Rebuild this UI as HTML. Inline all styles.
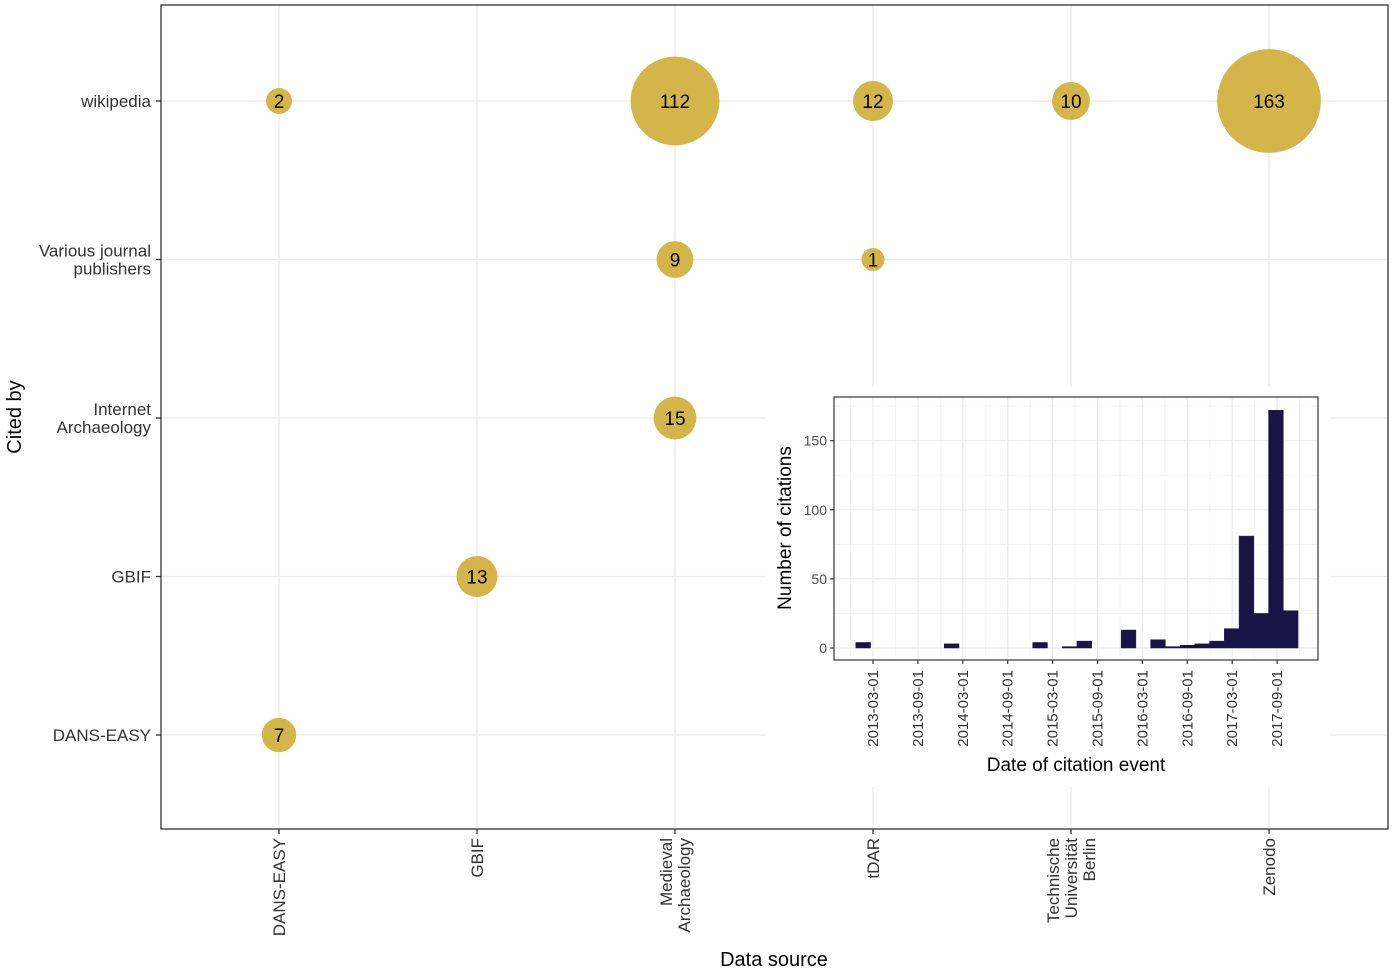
<!DOCTYPE html>
<html><head><meta charset="utf-8"><style>
body{margin:0;background:#fff;}
svg{display:block;font-family:"Liberation Sans",Arial,sans-serif;}
</style></head><body>
<svg id="s" width="1394" height="972" viewBox="0 0 1394 972" xmlns="http://www.w3.org/2000/svg"></svg>
<script>
// main bubble chart data
const sources=["DANS-EASY","GBIF","Medieval\nArchaeology","tDAR","Technische\nUniversität\nBerlin","Zenodo"];
const citers=["wikipedia","Various journal\npublishers","Internet\nArchaeology","GBIF","DANS-EASY"];
const bubbleSrc=[0,2,3,4,5,2,3,2,1,0];
const bubbleCiter=[0,0,0,0,0,1,1,2,3,4];
const bubbleVal=[2,112,12,10,163,9,1,15,13,7];
// inset histogram data (2-month bins)
const binIndex=[0,6,12,14,15,18,20,21,22,23,24,25,26,27,28,29];
const binCount=[4,3,4,1,5,13,6,1,2,3,5,14,81,25,172,27];
const yTicks=[0,50,100,150];
const xTickLabels=["2013-03-01","2013-09-01","2014-03-01","2014-09-01","2015-03-01","2015-09-01","2016-03-01","2016-09-01","2017-03-01","2017-09-01"];

const s=document.getElementById('s');
const NS="http://www.w3.org/2000/svg";
function el(t,a,p){const e=document.createElementNS(NS,t);for(const k in a)e.setAttribute(k,a[k]);(p||s).appendChild(e);return e;}
const px=i=>279+i*198;
const py=i=>101+i*158.5;
const rad=v=>8.1+3.43*Math.sqrt(v);
const L=161,R=1388,T=5,B=829;
el('rect',{x:L,y:T,width:R-L,height:B-T,fill:'#fff'});
for(let i=0;i<sources.length;i++){const g=el('line',{x1:px(i),x2:px(i),y1:T,y2:B,stroke:'#ebebeb','stroke-width':1.3});}
for(let i=0;i<citers.length;i++){const g=el('line',{x1:L,x2:R,y1:py(i),y2:py(i),stroke:'#ebebeb','stroke-width':1.3});}
for(let k=0;k<bubbleVal.length;k++){
  const cx=px(bubbleSrc[k]),cy=py(bubbleCiter[k]);
  const c=el('circle',{cx:cx,cy:cy,r:rad(bubbleVal[k]),fill:'#d4b54a'});
  
  
  const t=el('text',{x:cx,y:cy+7,'text-anchor':'middle','font-size':19,fill:'#000'});t.textContent=bubbleVal[k];
  
  
}
el('rect',{x:766,y:387,width:564,height:400,fill:'#fff'});
el('rect',{x:L,y:T,width:R-L,height:B-T,fill:'none',stroke:'#333','stroke-width':1.3});
for(let i=0;i<citers.length;i++){
  const lines=citers[i].split('\n');const y0=py(i)+6-(lines.length-1)*9;
  const t=el('text',{x:151,y:y0,'text-anchor':'end','font-size':17,fill:'#333'});
  
  
  lines.forEach((l,j)=>{const ts=el('tspan',{x:151,y:y0+j*18},t);ts.textContent=l;});
  el('line',{x1:156,x2:161,y1:py(i),y2:py(i),stroke:'#333','stroke-width':1.3});
}
for(let i=0;i<sources.length;i++){
  const lines=sources[i].split('\n');const n=lines.length;
  el('line',{x1:px(i),x2:px(i),y1:B,y2:B+5,stroke:'#333','stroke-width':1.3});
  const t=el('text',{'text-anchor':'end','font-size':17,fill:'#333',transform:`translate(${px(i)},838) rotate(-90)`});
  
  
  lines.forEach((l,j)=>{const ts=el('tspan',{x:0,y:6-(n-1)*9+j*18},t);ts.textContent=l;});
}
let t=el('text',{x:774,y:966,'text-anchor':'middle','font-size':20});t.textContent='Data source';

t=el('text',{'text-anchor':'middle','font-size':20,transform:'translate(21,417) rotate(-90)'});t.textContent='Cited by';


const iL=834,iR=1318,iT=397,iB=660;
const ix=m=>873+m*(44.9/6);
const iy=v=>648-v*1.382;
const binStart=i=>-2.3+1.97*i;
for(let i=0;i<xTickLabels.length;i++){
  el('line',{x1:ix(i*6),x2:ix(i*6),y1:iT,y2:iB,stroke:'#ebebeb','stroke-width':1.2});
  el('line',{x1:ix(i*6+3),x2:ix(i*6+3),y1:iT,y2:iB,stroke:'#f3f3f3','stroke-width':0.8});
}
el('line',{x1:ix(-3),x2:ix(-3),y1:iT,y2:iB,stroke:'#f3f3f3','stroke-width':0.8});
for(let j=0;j<yTicks.length;j++){
  el('line',{x1:iL,x2:iR,y1:iy(yTicks[j]),y2:iy(yTicks[j]),stroke:'#ebebeb','stroke-width':1.2});
  el('line',{x1:iL,x2:iR,y1:iy(yTicks[j]+25),y2:iy(yTicks[j]+25),stroke:'#f3f3f3','stroke-width':0.8});
}
for(let k=0;k<binIndex.length;k++){
  const x0=ix(binStart(binIndex[k])),x1=ix(binStart(binIndex[k]+1));
  const b=el('rect',{x:x0,y:iy(binCount[k]),width:x1-x0,height:iy(0)-iy(binCount[k]),fill:'#1a1446',stroke:'#1a1446','stroke-width':0.5});
  
  
}
el('rect',{x:iL,y:iT,width:iR-iL,height:iB-iT,fill:'none',stroke:'#333','stroke-width':1.2});
for(let j=0;j<yTicks.length;j++){
  el('line',{x1:iL-4,x2:iL,y1:iy(yTicks[j]),y2:iy(yTicks[j]),stroke:'#333','stroke-width':1.2});
  const t=el('text',{x:iL-7,y:iy(yTicks[j])+5,'text-anchor':'end','font-size':14,fill:'#4d4d4d'});t.textContent=yTicks[j];
  
}
for(let i=0;i<xTickLabels.length;i++){
  el('line',{x1:ix(i*6),x2:ix(i*6),y1:iB,y2:iB+4,stroke:'#333','stroke-width':1.2});
  const t=el('text',{'text-anchor':'end','font-size':15,fill:'#333',transform:`translate(${ix(i*6)+5},670) rotate(-90)`});t.textContent=xTickLabels[i];
  
}
t=el('text',{x:1076,y:771,'text-anchor':'middle','font-size':19});t.textContent='Date of citation event';

t=el('text',{'text-anchor':'middle','font-size':19,transform:'translate(791,528) rotate(-90)'});t.textContent='Number of citations';

</script>
</body></html>
